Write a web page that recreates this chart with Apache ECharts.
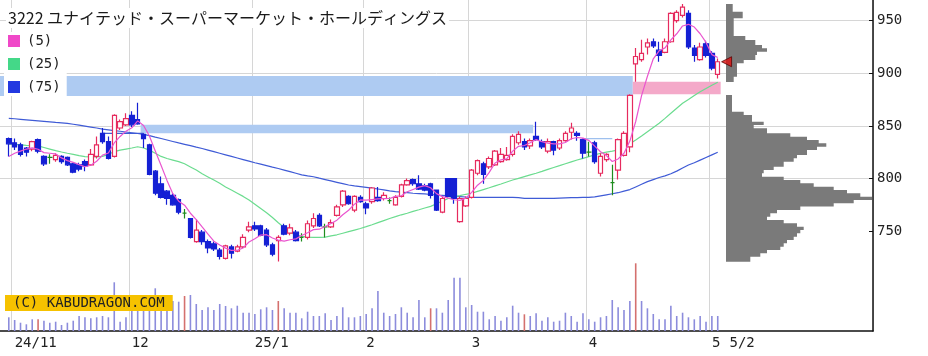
<!DOCTYPE html>
<html><head><meta charset="utf-8">
<script src="https://cdn.jsdelivr.net/npm/echarts@6/dist/echarts.min.js"></script>
<style>html,body{margin:0;padding:0;background:#fff}#c{width:928px;height:356px}</style>
</head><body><div id="c"></div>
<script>
// ---------------- data ----------------
const titleText = '3222 ユナイテッド・スーパーマーケット・ホールディングス';
const dates = [
 '2024-10-31',
 '2024-11-01','2024-11-05','2024-11-06','2024-11-07','2024-11-08','2024-11-11','2024-11-12','2024-11-13','2024-11-14','2024-11-15',
 '2024-11-18','2024-11-19','2024-11-20','2024-11-21','2024-11-22','2024-11-25','2024-11-26','2024-11-27','2024-11-28','2024-11-29',
 '2024-12-02','2024-12-03','2024-12-04','2024-12-05','2024-12-06','2024-12-09','2024-12-10','2024-12-11','2024-12-12','2024-12-13',
 '2024-12-16','2024-12-17','2024-12-18','2024-12-19','2024-12-20','2024-12-23','2024-12-24','2024-12-25','2024-12-26','2024-12-27','2024-12-30',
 '2025-01-06','2025-01-07','2025-01-08','2025-01-09','2025-01-10','2025-01-14','2025-01-15','2025-01-16','2025-01-17','2025-01-20',
 '2025-01-21','2025-01-22','2025-01-23','2025-01-24','2025-01-27','2025-01-28','2025-01-29','2025-01-30','2025-01-31',
 '2025-02-03','2025-02-04','2025-02-05','2025-02-06','2025-02-07','2025-02-10','2025-02-12','2025-02-13','2025-02-14','2025-02-17',
 '2025-02-18','2025-02-19','2025-02-20','2025-02-21','2025-02-25','2025-02-26','2025-02-27','2025-02-28',
 '2025-03-03','2025-03-04','2025-03-05','2025-03-06','2025-03-07','2025-03-10','2025-03-11','2025-03-12','2025-03-13','2025-03-14',
 '2025-03-17','2025-03-18','2025-03-19','2025-03-21','2025-03-24','2025-03-25','2025-03-26','2025-03-27','2025-03-28','2025-03-31',
 '2025-04-01','2025-04-02','2025-04-03','2025-04-04','2025-04-07','2025-04-08','2025-04-09','2025-04-10','2025-04-11','2025-04-14',
 '2025-04-15','2025-04-16','2025-04-17','2025-04-18','2025-04-21','2025-04-22','2025-04-23','2025-04-24','2025-04-25','2025-04-28','2025-04-30',
 '2025-05-01','2025-05-02'
];
const opens = [838,834,832,829,828,837,821,820,818,821, 820,814,813,816,813,821,843,835,821,848,
 851,860,856,842,832,807,795,788,784,780, 767,762,740,749,740,738,732,724,735,731,
 735,751,755,755,751,737,741,755,748,749, 744,744,755,765,754,754,765,775,783,770,
 782,776,778,782,781,779,775,783,794,799, 795,793,795,789,768,800,800,759,774,782,
 805,814,811,813,816,818,823,834,835,831, 840,835,826,835,829,836,844,843,837,825,
 834,805,818,796,808,822,830,909,913,925, 930,922,920,930,950,955,957,924,913,928, 919,899];
const closes = [833,830,823,825,835,826,814,820,822,816, 813,806,809,812,823,832,835,819,860,854,
 857,851,852,838,804,786,782,781,775,768, 767,744,751,740,734,733,726,736,729,735,
 744,754,752,746,737,728,744,747,753,741, 744,757,762,755,754,758,773,788,776,783,
 778,772,791,779,784,779,782,794,798,795, 790,789,784,770,781,783,781,781,781,808,
 817,804,819,826,823,822,840,842,830,836, 837,830,835,827,836,843,848,841,824,825,
 816,821,823,796,837,843,879,916,919,929, 926,917,930,957,958,963,925,917,925,917, 905,911];
const lows = [821,827,821,821,826,824,812,814,816,814, 812,805,807,807,812,819,833,818,820,846,
 850,849,851,829,803,784,781,775,774,766, 762,743,739,737,729,731,723,723,724,730,
 734,749,750,745,735,726,721,746,746,740, 740,742,753,754,744,753,764,773,775,768,
 777,766,776,778,779,776,774,782,793,793, 789,788,781,769,767,782,776,758,773,781,
 803,795,809,812,815,817,821,832,827,828, 836,828,824,822,827,835,837,836,819,821,
 814,802,816,784,799,821,825,892,911,918, 924,911,919,929,948,953,923,911,912,915, 903,895];
const highs = [839,838,834,830,836,838,822,823,824,822, 821,815,815,818,828,840,848,840,861,856,
 862,864,872,843,833,808,802,789,786,781, 771,762,761,751,742,740,734,737,737,737,
 747,759,759,756,753,739,746,757,757,751, 748,760,767,767,757,761,775,789,784,784,
 784,778,792,792,787,782,784,795,800,800, 803,795,796,789,783,800,800,783,783,809,
 818,816,821,827,829,830,842,845,838,838, 854,837,838,836,838,845,853,845,838,835,
 836,824,824,813,838,845,880,924,932,933, 933,930,933,958,960,966,960,927,929,931, 921,914];
const volumes = [13.7,11,8.3,6.7,11.7,11.7,10.3,8.3,9.3,6, 8.3,10.3,15,13.7,12.7,13.7,15,13.7,48.7,9.3,
 13.7,26,30,28,32,42.7,30,28,30,29.3, 35,36,27,21,23.7,21,27,25,22.7,25.3,
 18.3,18.3,17,21.7,23.7,21,30,22.7,18.3,18.3, 12.7,19.3,15,15,17.7,11,15,23.7,13.7,13.7,
 15,17,22.7,40,18.3,15,17,23.7,18.3,13.7, 31,13.7,22.7,22.7,18.3,31,53.3,53.3,23.7,26,
 19.3,19.3,11.7,15,10.3,13.7,25.3,18.3,16.7,15, 17.7,10.3,13.7,9.3,10.3,18.3,15,9.3,17.7,11.7,
 9.3,13.7,15,31,23.7,21,30,67.7,30,22.7, 17,11.7,11.7,25.3,15,18.3,13.7,11.7,15,9.3, 15,15];
const redVolumeDays = ['2024-11-08','2024-12-13','2025-01-10','2025-02-19','2025-03-14','2025-04-11'];
const ma5 = [821,824,826,828,829.2,827.8,824.6,824,823.4,819.6, 817,815.4,813.2,811.2,812.6,816.4,822.2,824.2,833.8,840,
 845,848.2,854.8,850.4,840.4,826.2,812.4,798.2,785.6,778.4, 774.6,767,761,754,747.2,740.4,736.8,733.8,731.6,731.8,
 734,739.6,742.8,746.2,746.6,743.4,741.4,740.4,741.8,742.6, 745.8,748.4,751.4,751.8,754.4,757.2,760.4,765.6,769.8,775.6,
 779.6,779.4,780,780.6,780.8,781,783,783.6,787.4,789.6, 791.8,793.2,791.2,785.6,782.8,781.4,779.8,779.2,781.4,786.8,
 793.6,798.2,805.8,814.8,817.8,818.8,826,830.6,831.4,834, 837,835,833.6,833,833,834.2,837.8,839,838.4,836.2,
 830.8,825.4,821.8,816.2,818.6,824,835.6,854.2,878.8,897.2, 913.8,921.4,924.2,931.8,937.6,945,946.6,944,937.6,929.4, 917.8,915];
const ma25 = [833,832.5,832,831.5,831.2,831,829.5,828,826.5,825.2, 824,823,821.8,820.8,820.5,820.5,821,823,825.5,827,
 828,829,830.2,829,827,824,821,819,817.5,816, 814,811,808,804.5,801.5,798.5,795.5,792,789,786,
 783,779.5,775.5,771.5,767.5,763,758,753.5,748.5,746.5, 745,744.2,744,744,744.2,745.5,746.5,748,749.5,751,
 752.5,754.2,756,758,760,762,763.7,765.5,767,768.7, 770.3,772,773.5,776,778.5,781,782.5,783.7,785,786,
 787.8,789.5,791.2,793,794.8,796.7,798.6,800.2,801.8,803.4, 805,806.8,808.7,810.5,812.2,814,815.8,817.6,819.2,820.8,
 822.4,824,825,826,827.1,829.5,833,836.6,840.5,844.5, 848.5,852.5,857.2,862,866.8,871.5,875.2,879,882.5,885.6, 888.7,891.5];
const ma75 = [857.2,856.8,856.3,855.8,855.3,854.8,854.3,853.8,853.3,852.9, 852.5,851.6,850.7,849.8,848.9,848,847,846.3,845.6,844.9,
 844.2,843.5,842.8,842,840.7,839.3,838,836.6,835.2,833.8, 832.5,831.2,829.8,828.5,827,825.5,824,822.5,821,819.5,
 818,816.5,815,813.6,812.2,810.8,809.5,808,806.5,805, 803.5,802.5,801.7,800.3,799,797.7,796.4,795.1,793.8,793,
 792.3,791.6,790.8,790,789.2,788.3,787.5,787,786.5,786, 785.7,785.3,784.8,784.3,784,783.6,783.2,782.8,782.4,782.1,
 782.1,782.1,782.1,782.1,782.1,782.1,782.1,781.8,781.2,781.2, 781.2,781.2,781.2,781.2,781.4,781.6,781.8,781.8,782,782,
 782.5,783.5,784.5,785.5,786.5,788,789.5,792,794.5,797, 799,801,802.5,804.5,807,810,812.8,815,817.5,820, 822.5,825];
// price gaps (窓): start date (null = before chart), end date (null = still open), low, high, kind
const gapStart = [null, '2024-12-04', '2025-04-11'];
const gapEnd   = ['2025-04-11', '2025-03-18', null];
const gapLow   = [878.4, 843, 880];
const gapHigh  = [897.4, 851, 892];
const gapKind  = ['down', 'down', 'up'];
// horizontal reference segments
const refLineFrom = ['2024-11-25', '2025-03-31'];
const refLineTo   = ['2024-12-04', '2025-04-07'];
const refLineLevel = [843, 838];
// volume-at-price profile (price bands, high to low)
const profileLow  = [958.6,952.3,935.5,931.7,926.9,923.8,920.5,917.4,912.6,909.5,896.8,891.7,
 863.5,860.4,854.0,850.9,847.7,843.0,839.7,836.6,833.5,830.2,827.1,822.3,819.2,816.0,811.2,808.1,804.9,801.7,
 798.6,795.4,792.2,789.1,786.0,782.7,779.6,776.4,773.3,770.1,767.0,763.7,760.6,757.4,754.2,751.0,747.9,744.7,
 741.5,738.4,735.2,732.0,728.9,725.7,720.9];
const profileHigh = [965.9,958.6,952.3,935.5,931.7,926.9,923.8,920.5,917.4,912.6,909.5,896.8,
 879.4,863.5,860.4,854.0,850.9,847.7,843.0,839.7,836.6,833.5,830.2,827.1,822.3,819.2,816.0,811.2,808.1,804.9,
 801.7,798.6,795.4,792.2,789.1,786.0,782.7,779.6,776.4,773.3,770.1,767.0,763.7,760.6,757.4,754.2,751.0,747.9,
 744.7,741.5,738.4,735.2,732.0,728.9,725.7];
const profileVol  = [6.7,16.7,7.7,19.3,29.3,36,41,31,29.3,17.7,11,7.7,
 6,17.7,26,37.7,27.7,41,64.3,81,92.7,100.3,91,81,71,67.7,57.7,47.7,37.7,36,
 57.7,74.3,87.7,107.7,121,134.3,146,127.7,107.7,74.3,51,44.3,41,57.7,71,77.7,74.3,71,
 67.7,61,57.7,54.3,41,34.3,24.3];
const tickLabels = {'2024-11-01':'24/11','2024-12-02':'12','2025-01-06':'25/1','2025-02-03':'2',
 '2025-03-03':'3','2025-04-01':'4','2025-05-01':'5'};
const lastDateLabel = '5/2';
const lastPrice = 911;
const yTicks = [750, 800, 850, 900, 950];

// ---------------- layout helpers ----------------
const PAD_BEFORE = 1, PAD_AFTER = 26;
const cats = [];
for (let i = 0; i < PAD_BEFORE; i++) cats.push('_b' + i);
dates.forEach(d => cats.push(d));
for (let i = 0; i < PAD_AFTER; i++) cats.push('_a' + i);
const K = d => cats.indexOf(d);
const lastK = K(dates[dates.length - 1]);
const labelOf = v => tickLabels[v] || (v === '_a1' ? lastDateLabel : '');

const candleData = dates.map((d, i) => [K(d), opens[i], closes[i], lows[i], highs[i]]);
const volData = dates.map((d, i) => ({
  value: [K(d), volumes[i]],
  itemStyle: { color: redVolumeDays.includes(d) ? '#d4706e' : '#8c8cdc' }
}));
const maLine = arr => dates.map((d, i) => [K(d), arr[i]]);
const gapData = gapLow.map((lo, i) => [
  gapStart[i] === null ? 0 : K(gapStart[i]),
  gapEnd[i] === null ? lastK + 1 : K(gapEnd[i]),
  lo, gapHigh[i], gapKind[i] === 'up' ? 1 : 0]);

// split profile into contiguous sections
const profSections = [];
profileLow.forEach((lo, i) => {
  if (i === 0 || Math.abs(profileHigh[i] - profileLow[i - 1]) > 0.01) profSections.push([]);
  profSections[profSections.length - 1].push(i);
});

const FONT = 'DejaVu Sans Mono';
const chart = echarts.init(document.getElementById('c'), null, { renderer: 'canvas' });
const GL = -1.49, GR = 55;
chart.setOption({
  animation: false,
  backgroundColor: '#fff',
  title: [
    { text: titleText, left: 6, top: 8, padding: [1, 2], backgroundColor: '#fff',
      textStyle: { fontFamily: 'Noto Sans CJK JP', fontSize: 16, fontWeight: 'normal', color: '#1a1a1a', lineHeight: 18 } },
    { text: '(C) KABUDRAGON.COM', left: 5, top: 296, padding: [1, 8], backgroundColor: '#f6c200', z: 20,
      textStyle: { fontFamily: FONT, fontSize: 14, fontWeight: 'normal', color: '#222', lineHeight: 12 } }
  ],
  legend: {
    orient: 'vertical', left: 4, top: 32, padding: [2, 6, 2, 4], itemGap: 9,
    itemWidth: 12, itemHeight: 12, icon: 'rect', backgroundColor: '#fff',
    textStyle: { fontFamily: FONT, fontSize: 14, color: '#222', padding: [0, 0, 0, 2] },
    selectedMode: false,
    data: [
      { name: '(5)', itemStyle: { color: '#f048c8' } },
      { name: '(25)', itemStyle: { color: '#44d888' } },
      { name: '(75)', itemStyle: { color: '#2238e0' } }
    ]
  },
  grid: [
    { left: GL, right: GR, top: 0, bottom: 25 },
    { left: GL, right: GR, top: 0, height: 283.7 },
    { left: 726, right: GR, top: 0, height: 283.7 }
  ],
  xAxis: [
    { type: 'category', gridIndex: 0, data: cats, boundaryGap: true,
      axisLine: { show: true, lineStyle: { color: '#111', width: 1.5 } },
      axisTick: { show: false },
      axisLabel: { interval: (i, v) => labelOf(v) !== '', formatter: v => labelOf(v), align: 'left',
        margin: 5, fontFamily: FONT, fontSize: 14, color: '#222', hideOverlap: false },
      splitLine: { show: true, interval: (i, v) => !!tickLabels[v], lineStyle: { color: '#d6d6d6', width: 1 } } },
    { type: 'category', gridIndex: 1, data: cats, boundaryGap: true, show: false },
    { type: 'value', gridIndex: 2, min: 0, max: 147, show: false }
  ],
  yAxis: [
    { type: 'value', gridIndex: 0, position: 'right', min: 0, max: 331,
      axisLine: { show: true, lineStyle: { color: '#111', width: 1.5 } },
      axisTick: { show: false }, axisLabel: { show: false }, splitLine: { show: false } },
    { type: 'value', gridIndex: 1, position: 'right', min: 700, max: 969.7, interval: 50,
      axisLine: { show: false },
      axisTick: { show: true, inside: true, length: 4, customValues: yTicks, lineStyle: { color: '#111' } },
      axisLabel: { customValues: yTicks, margin: 4, fontFamily: FONT, fontSize: 14, color: '#222' },
      splitLine: { show: true, showMinLine: false, lineStyle: { color: '#d6d6d6', width: 1 } } },
    { type: 'value', gridIndex: 2, min: 700, max: 969.7, show: false }
  ],
  series: [
    { type: 'bar', name: 'vol', xAxisIndex: 0, yAxisIndex: 0, data: volData, barWidth: 1.6, z: 1 },
    { type: 'custom', name: 'gaps', xAxisIndex: 1, yAxisIndex: 1, data: gapData, z: 1, silent: true,
      renderItem: (params, api) => {
        const w = api.size([1, 0])[0];
        const p1 = api.coord([api.value(0), api.value(3)]);
        const p2 = api.coord([api.value(1), api.value(2)]);
        const x1 = api.value(0) === 0 ? 0 : p1[0] - w / 2;
        return { type: 'rect', shape: { x: x1, y: p1[1], width: (p2[0] - w / 2) - x1, height: p2[1] - p1[1] },
          style: { fill: api.value(4) === 1 ? '#f4a9c9' : '#aecbf2' } };
      } },
    { type: 'custom', name: 'profile', xAxisIndex: 2, yAxisIndex: 2,
      data: profSections.map((s, i) => [i]), z: 2, silent: true,
      renderItem: (params, api) => {
        const idx = profSections[params.dataIndex];
        const pts = [];
        pts.push(api.coord([0, profileHigh[idx[0]]]));
        idx.forEach(i => {
          pts.push(api.coord([profileVol[i], profileHigh[i]]));
          pts.push(api.coord([profileVol[i], profileLow[i]]));
        });
        pts.push(api.coord([0, profileLow[idx[idx.length - 1]]]));
        return { type: 'polygon', shape: { points: pts }, style: { fill: '#7a7a7a' } };
      } },
    { type: 'line', name: '(75)', xAxisIndex: 1, yAxisIndex: 1, data: maLine(ma75), symbol: 'none',
      lineStyle: { color: '#3f5bd6', width: 1.2 }, itemStyle: { color: '#2238e0' }, z: 3 },
    { type: 'line', name: '(25)', xAxisIndex: 1, yAxisIndex: 1, data: maLine(ma25), symbol: 'none',
      lineStyle: { color: '#6bdc8f', width: 1.2 }, itemStyle: { color: '#44d888' }, z: 3 },
    { type: 'line', name: 'ref0', xAxisIndex: 1, yAxisIndex: 1, symbol: 'none', z: 3,
      data: [[K(refLineFrom[0]), refLineLevel[0]], [K(refLineTo[0]), refLineLevel[0]]],
      lineStyle: { color: '#3f5bd6', width: 1.2 } },
    { type: 'line', name: 'ref1', xAxisIndex: 1, yAxisIndex: 1, symbol: 'none', z: 3,
      data: [[K(refLineFrom[1]), refLineLevel[1]], [K(refLineTo[1]), refLineLevel[1]]],
      lineStyle: { color: '#9ec0ee', width: 1.2 } },
    { type: 'candlestick', name: 'price', xAxisIndex: 1, yAxisIndex: 1, data: candleData,
      encode: { x: 0, y: [1, 2, 3, 4] }, barWidth: 5, z: 4, clip: false,
      itemStyle: { color: '#ffffff', color0: '#1420d4', borderColor: '#e62b5e', borderColor0: '#1420d4',
        borderColorDoji: '#1e8c1e', borderWidth: 1.2 } },
    { type: 'line', name: '(5)', xAxisIndex: 1, yAxisIndex: 1, data: maLine(ma5), symbol: 'none',
      lineStyle: { color: '#ea55cf', width: 1.2 }, itemStyle: { color: '#f048c8' }, z: 5 },
    { type: 'scatter', name: 'last', xAxisIndex: 1, yAxisIndex: 1, data: [[lastK + 1, lastPrice]],
      symbol: 'triangle', symbolRotate: 90, symbolSize: [10, 10], symbolOffset: [3, 0], z: 6,
      itemStyle: { color: '#e01010', borderColor: '#5a0000', borderWidth: 1 } }
  ]
});
</script></body></html>
